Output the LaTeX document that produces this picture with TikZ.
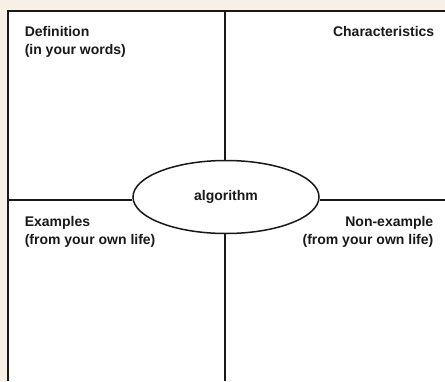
\documentclass[tikz,border=0pt]{standalone}
\usepackage{fontspec}
\setmainfont{Liberation Sans}
\usetikzlibrary{positioning,shapes.geometric}
\definecolor{paper}{RGB}{246,240,229}
\definecolor{ink}{RGB}{25,25,25}

\begin{document}
\begin{tikzpicture}[x=1pt, y=-1pt, line width=1.5pt, draw=ink,
    cell/.style={font=\fontsize{14}{18}\selectfont\bfseries, text=ink, inner sep=0pt},
    term/.style={draw=ink, ellipse, fill=white, minimum width=186pt, minimum height=73pt,
                 font=\fontsize{14}{16}\selectfont\bfseries, text=ink}]
            \fill[paper] (0,0) rectangle (445,381);
            \useasboundingbox (0,0) rectangle (445,381);
            \fill[white] (8,11) rectangle (445,381);

            % frame corners
            \coordinate (TL) at (8,11);
            \coordinate (BL) at (8,381);
            \coordinate (TR) at (445,11);
            \draw[ink] (BL) -- (TL) -- (TR);

            % ends of the cross
            \coordinate (top) at (225,11);
            \coordinate (bot) at (225,381);
            \coordinate (lft) at (8,200);
            \coordinate (rgt) at (445,200);

            \node[term] (alg) at (226,197) {algorithm};

            \node[cell, anchor=north west, align=left] (def) at (24,26) {Definition\\(in your words)};
            \node[cell, anchor=north east] (char) at (435,26) {Characteristics};
            \node[cell, anchor=north west, align=left] (ex) at (24,216) {Examples\\(from your own life)};
            \node[cell, anchor=north east, align=right] (nonex) at (434,216) {Non-example\\(from your own life)};

            % Define the edges
            \draw[ink] (top) -- (alg.north -| top);
            \draw[ink] (alg.south -| bot) -- (bot);
            \draw[ink] (lft) -- (alg.west |- lft);
            \draw[ink] (alg.east |- rgt) -- (rgt);
      \end{tikzpicture}
\end{document}
